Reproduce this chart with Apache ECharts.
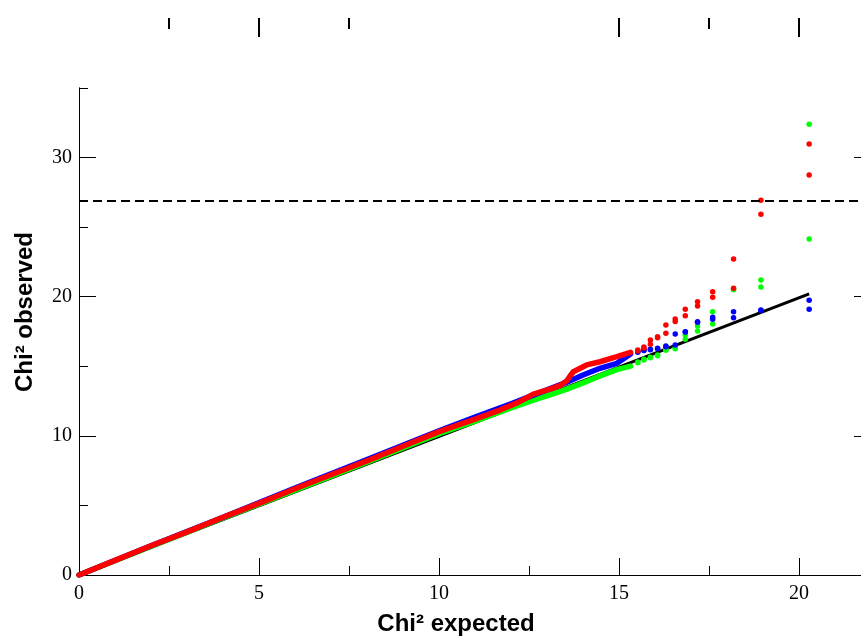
<!DOCTYPE html>
<html><head><meta charset="utf-8">
<script src="https://cdn.jsdelivr.net/npm/echarts@6/dist/echarts.min.js"></script>
<style>html,body{margin:0;padding:0;background:#fff}#c{width:861px;height:641px}</style>
</head><body><div id="c"></div>
<script>
// ---- data ----
const xMajorTicks = [0, 5, 10, 15, 20];
const xMinorTicks = [2.5, 7.5, 12.5, 17.5];
const yMajorTicks = [0, 10, 20, 30];
const yMinorTicks = [5, 15, 25, 35];
const topMajorTicks = [5, 15, 20];
const topMinorTicks = [2.5, 7.5, 17.5];
const threshold = 26.87;
const diagonal = [[0, 0], [20.28, 20.2]];

// dense part of each QQ curve (expected, observed)
const redBandX = [0, 1, 2, 3, 4, 5, 6, 7, 8, 9, 10, 11, 11.69, 12.2, 12.62, 13.08, 13.35, 13.55, 13.64, 13.73, 14.1, 14.47, 14.94, 15.32];
const redBandY = [0, 1.05, 2.1, 3.1, 4.15, 5.15, 6.2, 7.2, 8.2, 9.25, 10.3, 11.2, 11.85, 12.4, 13.0, 13.35, 13.6, 13.95, 14.3, 14.6, 15.09, 15.32, 15.68, 16.0];
const blueBandX = [0, 2, 4, 6, 8, 10, 11, 12, 12.6, 13.0, 13.5, 14.0, 14.47, 14.94, 15.32];
const blueBandY = [0, 2.1, 4.15, 6.25, 8.3, 10.35, 11.35, 12.3, 12.9, 13.3, 13.8, 14.37, 14.85, 15.21, 15.88];
const greenBandX = [0, 2, 4, 6, 8, 10, 11, 12, 12.6, 13.1, 13.55, 14.0, 14.47, 14.94, 15.32];
const greenBandY = [0, 2.05, 4.1, 6.1, 8.1, 10.15, 11.05, 12.0, 12.55, 12.95, 13.35, 13.8, 14.3, 14.75, 15.0];

// upper tail: expected quantiles and pairs of observed values
const tailX = [20.28, 18.94, 18.18, 17.60, 17.18, 16.84, 16.56, 16.30, 16.07, 15.87, 15.69, 15.52];
const redHi = [30.96, 26.92, 22.70, 20.35, 19.63, 19.09, 18.39, 17.96, 17.12, 16.88, 16.38, 16.16];
const redLo = [28.74, 25.91, 20.60, 19.95, 19.32, 18.63, 18.21, 17.36, 17.05, 16.57, 16.30, 16.10];
const greenHi = [32.38, 21.19, 20.55, 18.92, 17.89, 17.24, 16.31, 16.21, 15.80, 15.64, 15.50, 15.30];
const greenLo = [24.14, 20.69, 20.50, 18.03, 17.53, 16.93, 16.25, 16.15, 15.75, 15.60, 15.45, 15.25];
const blueHi = [19.73, 19.04, 18.92, 18.51, 18.20, 17.48, 17.31, 16.45, 16.29, 16.21, 16.16, 16.04];
const blueLo = [19.09, 19.00, 18.48, 18.37, 18.15, 17.45, 16.52, 16.40, 16.25, 16.18, 16.12, 16.00];

const RED = '#ff0000', BLUE = '#0000ff', GREEN = '#00ff00';
const zip = (xs, ys) => xs.map((x, i) => [x, ys[i]]);
const tail = (hi, lo) => zip(tailX, hi).concat(zip(tailX, lo));

const chart = echarts.init(document.getElementById('c'), null, {renderer: 'canvas'});
const serif = 'Liberation Serif';
const X_MAX = 21.72;
const axisCommon = {
  type: 'value', splitLine: {show: false},
  axisLine: {show: true, onZero: false, lineStyle: {color: '#000', width: 1}},
};
const hiddenLine = {show: false, onZero: false};
const bandLine = (name, xs, ys, color) => ({
  name, type: 'line', data: zip(xs, ys), showSymbol: false, symbol: 'none',
  lineStyle: {color, width: 5.5, cap: 'round', join: 'round'}, silent: true, z: 3
});
const tailScatter = (name, hi, lo, color) => ({
  name, type: 'scatter', data: tail(hi, lo), symbolSize: 5.5,
  itemStyle: {color, opacity: 1}, silent: true, z: 4
});

chart.setOption({
  animation: false,
  backgroundColor: '#fff',
  grid: [
    {left: 79, right: 0, top: 87.8, bottom: 66},
    {left: 79, right: 0, top: 18, height: 30}
  ],
  xAxis: [
    Object.assign({}, axisCommon, {
      gridIndex: 0, min: 0, max: X_MAX, position: 'bottom',
      axisTick: {show: true, inside: true, length: 17, customValues: xMajorTicks, lineStyle: {color: '#000', width: 1}},
      axisLabel: {show: true, customValues: xMajorTicks, fontFamily: serif, fontSize: 20, color: '#000', margin: 9}
    }),
    Object.assign({}, axisCommon, {
      gridIndex: 0, min: 0, max: X_MAX, position: 'bottom', axisLine: hiddenLine,
      axisTick: {show: true, inside: true, length: 9, customValues: xMinorTicks, lineStyle: {color: '#000', width: 1}},
      axisLabel: {show: false}
    }),
    Object.assign({}, axisCommon, {
      gridIndex: 1, min: 0, max: X_MAX, position: 'top', axisLine: hiddenLine,
      axisTick: {show: true, inside: true, length: 19, customValues: topMajorTicks, lineStyle: {color: '#000', width: 2}},
      axisLabel: {show: false}
    }),
    Object.assign({}, axisCommon, {
      gridIndex: 1, min: 0, max: X_MAX, position: 'top', axisLine: hiddenLine,
      axisTick: {show: true, inside: true, length: 11, customValues: topMinorTicks, lineStyle: {color: '#000', width: 2}},
      axisLabel: {show: false}
    })
  ],
  yAxis: [
    Object.assign({}, axisCommon, {
      gridIndex: 0, min: 0, max: 35, position: 'left',
      axisTick: {show: true, inside: true, length: 17, customValues: yMajorTicks, lineStyle: {color: '#000', width: 1}},
      axisLabel: {show: true, customValues: yMajorTicks, fontFamily: serif, fontSize: 20, color: '#000', margin: 7}
    }),
    Object.assign({}, axisCommon, {
      gridIndex: 0, min: 0, max: 35, position: 'left', axisLine: hiddenLine,
      axisTick: {show: true, inside: true, length: 9, customValues: yMinorTicks, lineStyle: {color: '#000', width: 1}},
      axisLabel: {show: false}
    }),
    Object.assign({}, axisCommon, {
      gridIndex: 0, min: 0, max: 35, position: 'right', axisLine: hiddenLine,
      axisTick: {show: true, inside: true, length: 7, customValues: yMajorTicks, lineStyle: {color: '#000', width: 1}},
      axisLabel: {show: false}
    }),
    Object.assign({}, axisCommon, {
      gridIndex: 1, min: 0, max: 1, show: false
    })
  ],
  graphic: [
    {type: 'text', x: 456, y: 624, style: {text: 'Chi² expected', font: 'bold 24px "Liberation Sans"', fill: '#000', textAlign: 'center', textVerticalAlign: 'middle'}},
    {type: 'text', x: 25, y: 312, rotation: Math.PI / 2, style: {text: 'Chi² observed', font: 'bold 24px "Liberation Sans"', fill: '#000', textAlign: 'center', textVerticalAlign: 'middle'}}
  ],
  series: [
    {
      name: 'expected', type: 'line', data: diagonal, symbol: 'none', silent: true, z: 2,
      lineStyle: {color: '#000', width: 3},
      markLine: {
        silent: true, symbol: ['none', 'none'], label: {show: false},
        lineStyle: {color: '#000', width: 2, type: [9, 5]},
        data: [{yAxis: threshold}]
      }
    },
    bandLine('green band', greenBandX, greenBandY, GREEN),
    bandLine('blue band', blueBandX, blueBandY, BLUE),
    bandLine('red band', redBandX, redBandY, RED),
    tailScatter('green', greenHi, greenLo, GREEN),
    tailScatter('blue', blueHi, blueLo, BLUE),
    tailScatter('red', redHi, redLo, RED)
  ]
});
</script>
</body></html>
